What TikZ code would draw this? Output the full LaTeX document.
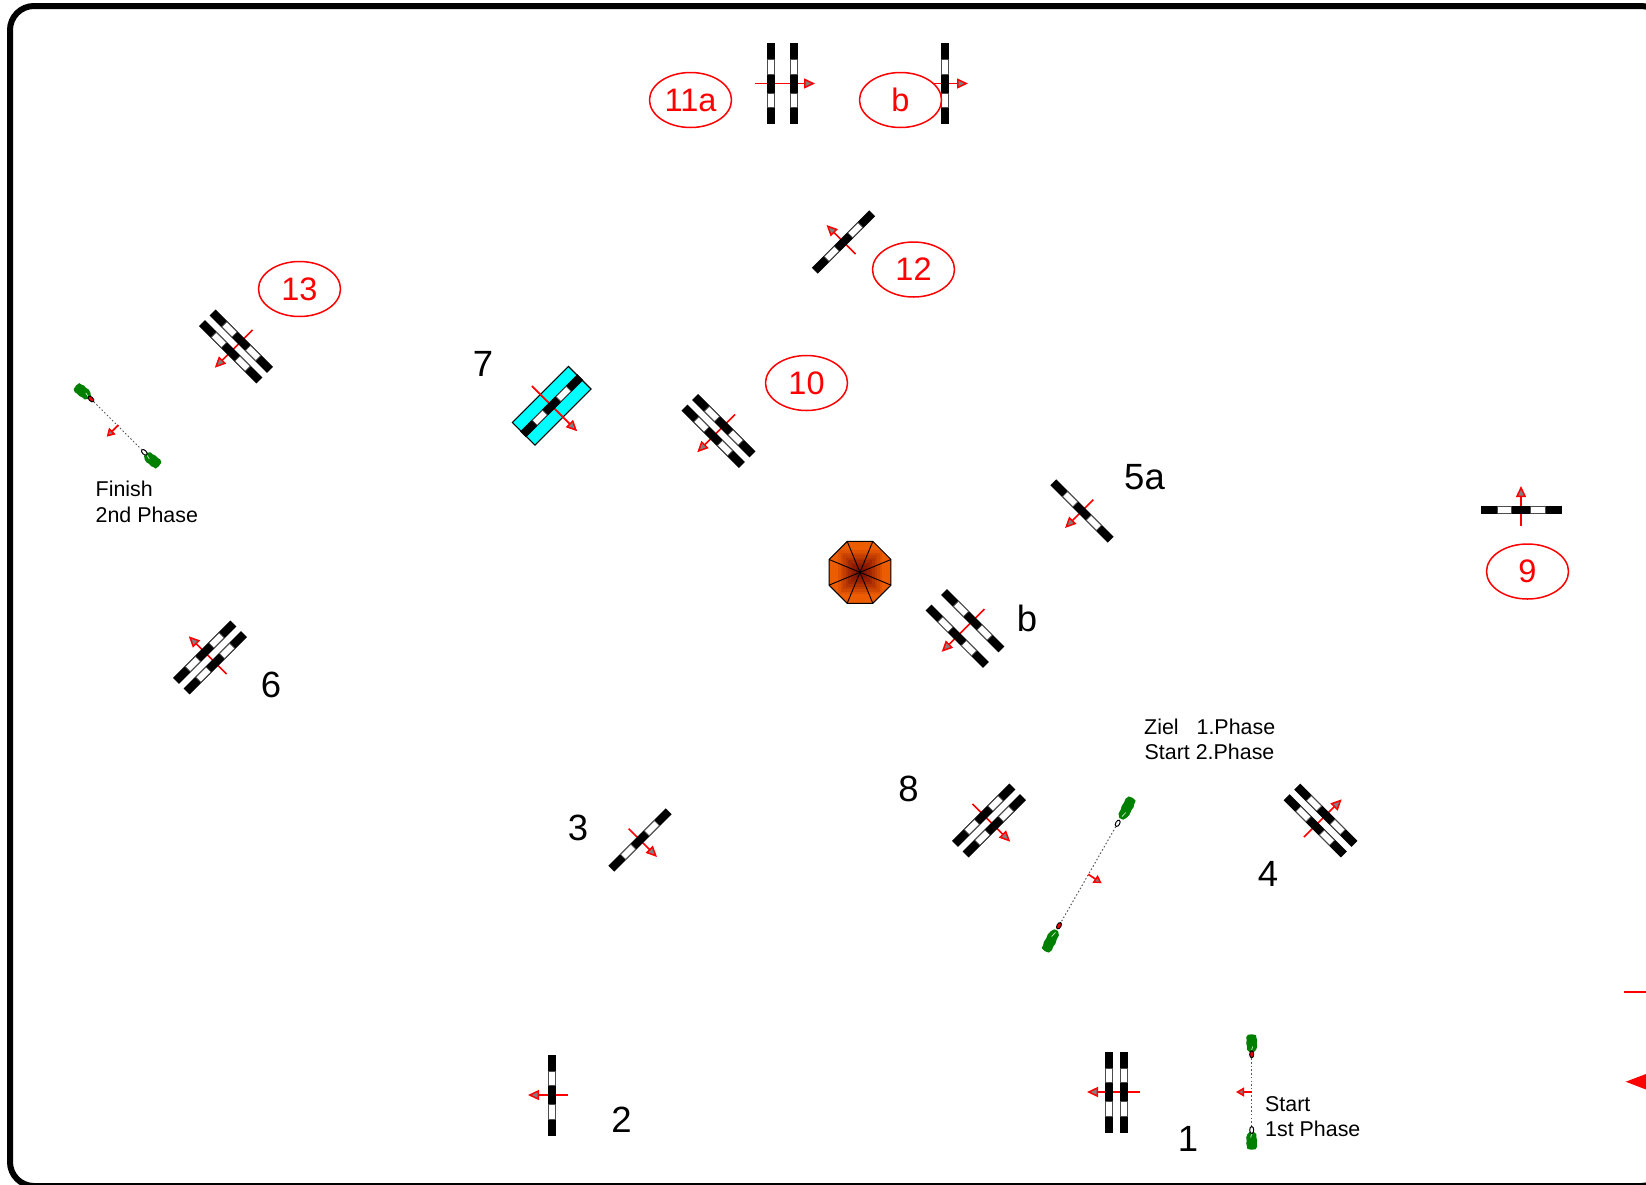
\documentclass[tikz,border=0pt]{standalone}
\usepackage{fontspec}
\setmainfont{Liberation Sans}
\usetikzlibrary{arrows.meta,shapes.geometric}
\definecolor{poolcol}{HTML}{00FFFF}
\definecolor{flagcol}{HTML}{008000}
\definecolor{treeout}{HTML}{EC5C00}
\definecolor{treein}{HTML}{801000}
\tikzset{
  polepart/.style={fill=black,draw=none},
  polegap/.style={fill=white,draw=black!70,line width=0.7pt},
  dirarrow/.style={draw=red,line width=1.7pt,-{Triangle[open,fill=gray,length=11pt,width=10pt,line width=1.5pt]}},
  rednum/.style={draw=red,fill=white,line width=1.5pt,ellipse,minimum width=82pt,minimum height=55pt,inner sep=0pt,text=red,font=\fontsize{32.5}{32.5}\selectfont},
  blacknum/.style={text=black,inner sep=0pt,font=\fontsize{36.5}{36.5}\selectfont},
  smalltext/.style={text=black,inner sep=0pt,anchor=west,font=\fontsize{21.4}{21.4}\selectfont},
  flagblob/.style={fill=flagcol,draw=none},
  flagtick/.style={draw=white!75!flagcol,line width=0.8pt},
  phaseline/.style={black!65,line width=1pt,dash pattern=on 1.5pt off 2.2pt},
  phasearrow/.style={draw=red,line width=1.7pt,-{Triangle[open,fill=gray,length=8pt,width=9pt,line width=1.5pt]}},
  markred/.style={fill=red,draw=black,line width=1pt,ellipse,minimum width=4pt,minimum height=7pt,inner sep=0pt},
  markwhite/.style={fill=white,draw=black,line width=1pt,ellipse,minimum width=4pt,minimum height=7pt,inner sep=0pt},
}
\newcommand{\onepole}[1]{%
  \fill[polepart] (#1-4.2,-40.5) rectangle (#1+4.2,40.5);
  \filldraw[polegap] (#1-3.5,-24) rectangle (#1+3.5,-9.5);
  \filldraw[polegap] (#1-3.5,9.5) rectangle (#1+3.5,24);
}
% x, y, direction, half gap (0 = single pole), arrow back, arrow front
\newcommand{\jumpat}[6]{%
  \begin{scope}[shift={(#1,-#2)},rotate=#3]
    \coordinate (from) at (-#5,0);
    \coordinate (to) at (#6,0);
    \draw[dirarrow] (from) -- (to);
    \ifdim #4pt=0pt \onepole{0}\else \onepole{-#4}\onepole{#4}\fi
  \end{scope}
}
% x, y, rotation, half length, half width: ragged flag, local +x towards its marker
\newcommand{\blobat}[5]{%
  \begin{scope}[shift={(#1,-#2)},rotate=#3,x=#4pt,y=#5pt]
    \fill[flagblob] (-1,0.1) -- (-0.9,0.8) -- (-0.6,0.85) -- (-0.35,1) -- (0,0.92) -- (0.35,1) -- (0.7,0.8) -- (0.98,0.4)
      -- (1,-0.35) -- (0.72,-0.85) -- (0.35,-0.85) -- (0,-1) -- (-0.35,-0.92) -- (-0.65,-1) -- (-0.95,-0.7) -- cycle;
    \draw[flagtick] (0.35,0.2) -- (0.8,-0.05);
  \end{scope}
}
\begin{document}
\begin{tikzpicture}[x=1pt,y=1pt]
\useasboundingbox (0,0) rectangle (1646,-1184);
\clip (0,0) rectangle (1646,-1184);
\fill[white] (0,0) rectangle (1646,-1184);
\draw[black,line width=6pt,rounded corners=24pt] (10,-6) rectangle (1665,-1186);

% tree
\begin{scope}[shift={(860,-572.3)}]
  \begin{scope}
    \clip (22.5:33.5) -- (67.5:33.5) -- (112.5:33.5) -- (157.5:33.5) -- (202.5:33.5) -- (247.5:33.5) -- (292.5:33.5) -- (337.5:33.5) -- cycle;
    \fill[treeout] (-34,-34) rectangle (34,34);
    \foreach \r/\m in {22/12,19.5/26,17/40,14.5/54,12/68,9.5/80,7/90,4.5/100}
      \fill[treein!\m!treeout] (-\r,-\r) rectangle (\r,\r);
  \end{scope}
  \draw[black,line width=1pt] (22.5:33.5) -- (67.5:33.5) -- (112.5:33.5) -- (157.5:33.5) -- (202.5:33.5) -- (247.5:33.5) -- (292.5:33.5) -- (337.5:33.5) -- cycle;
  \foreach \a in {22.5,67.5,112.5,157.5,202.5,247.5,292.5,337.5}
    \draw[black,line width=0.9pt] (0,0) -- (\a:33.5);
\end{scope}

% jumps
\jumpat{782.5}{83.5}{0}{11.5}{27.5}{32.5}
\jumpat{945}{83.5}{0}{0}{16}{23}
\jumpat{843.5}{242}{135}{0}{17}{24}
\jumpat{236}{346.5}{225}{7.5}{23.5}{30}
\jumpat{718.5}{431}{225}{7.5}{23.5}{30}
\jumpat{1082}{511}{225}{0}{16}{24}
\jumpat{965}{628.5}{225}{11}{27.5}{33}
\jumpat{1521}{510}{90}{0}{16}{24}
\jumpat{210}{657.5}{135}{7.5}{23.5}{30}
\jumpat{989}{820.5}{-45}{7.5}{23.5}{30}
\jumpat{1320.5}{820.5}{45}{7.5}{23.5}{30}
\jumpat{640}{840}{-45}{0}{16}{24}
\jumpat{552}{1095}{180}{0}{16}{24}
\jumpat{1116.5}{1092}{180}{7.5}{23.5}{29.5}

% water jump 7
\begin{scope}[shift={(551.7,-405.8)},rotate=-45]
  \filldraw[fill=poolcol,draw=black,line width=1.2pt] (-16,-39.6) rectangle (16,39.6);
  \draw[dirarrow] (-28,0) -- (36,0);
  \onepole{0}
\end{scope}

% finish second phase
\blobat{82.7}{391.7}{-40}{9}{5.5}
\blobat{152.3}{460}{140}{9}{5.5}
\node[markred,rotate=45] (f3) at (91,-399) {};
\node[markwhite,rotate=45] (f4) at (144.3,-452.3) {};
\draw[phaseline] (f3) -- (f4);
\coordinate (f5) at (118.3,-425);
\coordinate (f6) at (106.7,-436.7);
\draw[phasearrow] (f5) -- (f6);

% finish first phase / start second phase
\blobat{1126.7}{808.3}{-118}{12}{5.5}
\blobat{1050.7}{940.7}{62}{12}{5.5}
\node[markwhite,rotate=-30] (m3) at (1117.7,-823.3) {};
\node[markred,rotate=-30] (m4) at (1059,-925.7) {};
\draw[phaseline] (m3) -- (m4);
\coordinate (m5) at (1088.3,-874.3);
\coordinate (m6) at (1101.7,-883.3);
\draw[phasearrow] (m5) -- (m6);

% start first phase
\blobat{1251.7}{1043.3}{-90}{9}{5.5}
\blobat{1251.7}{1140.7}{90}{9}{5.5}
\node[markred] (s3) at (1251.7,-1054.3) {};
\node[markwhite] (s4) at (1251.7,-1130) {};
\draw[phaseline] (s3) -- (s4);
\coordinate (s5) at (1251.7,-1092);
\coordinate (s6) at (1236,-1092);
\draw[phasearrow] (s5) -- (s6);

% red numbers
\node[rednum] (n11a) at (690.5,-100) {11a};
\node[rednum] (n11b) at (900.5,-100) {b};
\node[rednum] (n12) at (913.5,-269.5) {12};
\node[rednum] (n13) at (299.5,-289) {13};
\node[rednum] (n10) at (806.5,-383) {10};
\node[rednum] (n9) at (1527.5,-571.5) {9};

% black numbers
\node[blacknum] (b7) at (483,-363.5) {7};
\node[blacknum] (b5a) at (1144.5,-477) {5a};
\node[blacknum] (b5b) at (1027,-618.5) {b};
\node[blacknum] (b6) at (271,-684.5) {6};
\node[blacknum] (b8) at (908.5,-788.5) {8};
\node[blacknum] (b3) at (578,-827.5) {3};
\node[blacknum] (b4) at (1268,-873.5) {4};
\node[blacknum] (b2) at (621.5,-1119.5) {2};
\node[blacknum] (b1) at (1188,-1139) {1};

% small labels
\node[smalltext] (t1) at (95.5,-489) {Finish};
\node[smalltext] (t2) at (95.5,-515) {2nd Phase};
\node[smalltext] (t3) at (1144,-727) {Ziel\hspace{0.84em}1.Phase};
\node[smalltext] (t4) at (1144.5,-752) {Start 2.Phase};
\node[smalltext] (t5) at (1265,-1104) {Start};
\node[smalltext] (t6) at (1265,-1129) {1st Phase};

% partial legend at the right edge
\coordinate (e1) at (1624,-992);
\coordinate (e2) at (1646,-992);
\draw[red,line width=2pt] (e1) -- (e2);
\fill[red] (1625.7,-1081.7) -- (1646,-1074) -- (1646,-1089.5) -- cycle;
\end{tikzpicture}
\end{document}
